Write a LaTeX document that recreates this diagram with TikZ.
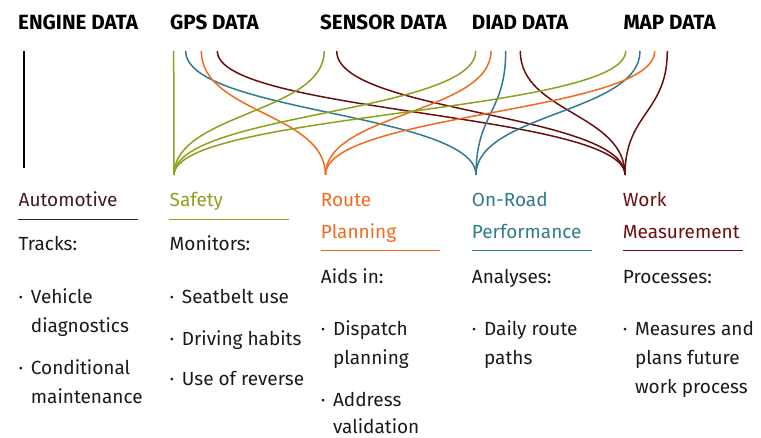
\documentclass[tikz,border=0pt]{standalone}
\usepackage{fontspec}
\setmainfont{Fira Sans}
\definecolor{cgreen}{HTML}{8BA21C}
\definecolor{corange}{HTML}{F26B1D}
\definecolor{cteal}{HTML}{2F7B8E}
\definecolor{cdred}{HTML}{6B0E10}
\definecolor{cbrown}{HTML}{3D1C22}
\definecolor{ctext}{HTML}{1A1A1A}
\tikzset{
  hdr/.style={anchor=base west,inner sep=0pt,font=\fontsize{20.6}{24}\selectfont\bfseries,text=black},
  txt/.style={anchor=base west,inner sep=0pt,font=\fontsize{19}{22}\selectfont,text=ctext},
  bul/.style={anchor=base west,inner sep=0pt,font=\fontsize{19}{22}\selectfont,text=ctext},
  flow/.style={line width=1.5pt},
  uline/.style={line width=1.5pt}
}
\newcommand{\flowc}[3]{\draw[flow,#1] (#2) .. controls +(0,62) and +(0,-62) .. (#3);}
\begin{document}
\begin{tikzpicture}[x=1pt,y=-1pt]
\useasboundingbox (0,0) rectangle (761,438);
% headers
\node[hdr] (hEng) at (18,30) {ENGINE DATA};
\node[hdr] (hGps) at (170,30) {GPS DATA};
\node[hdr] (hSen) at (320,30) {SENSOR DATA};
\node[hdr] (hDiad) at (471.7,30) {DIAD DATA};
\node[hdr] (hMap) at (623.3,30) {MAP DATA};
% top coordinates
\coordinate (eTop) at (24,51);
\coordinate (eBot) at (24,168);
\coordinate (gG) at (173.7,51);
\coordinate (gT) at (185.7,51);
\coordinate (gO) at (201.3,51);
\coordinate (gR) at (217.3,51);
\coordinate (sG) at (324.3,51);
\coordinate (sR) at (336.7,51);
\coordinate (dG) at (475.7,51);
\coordinate (dO) at (491,51);
\coordinate (dT) at (505.7,51);
\coordinate (dR) at (520.3,51);
\coordinate (mG) at (625.7,51);
\coordinate (mT) at (640,51);
\coordinate (mO) at (654.7,51);
\coordinate (mR) at (667.3,51);
% hubs
\coordinate (hubG) at (174,175);
\coordinate (hubO) at (325.5,175);
\coordinate (hubT) at (476,175);
\coordinate (hubR) at (625,175);
% engine line
\draw[flow,black,line width=1.2pt] (eTop) -- (eBot);
% flows
\draw[flow,cgreen] (gG) -- (hubG);
\flowc{cteal}{gT}{hubT}
\flowc{corange}{gO}{hubO}
\flowc{cdred}{gR}{hubR}
\flowc{cgreen}{sG}{hubG}
\flowc{cdred}{sR}{hubR}
\flowc{cgreen}{dG}{hubG}
\flowc{corange}{dO}{hubO}
\flowc{cteal}{dT}{hubT}
\flowc{cdred}{dR}{hubR}
\flowc{cgreen}{mG}{hubG}
\flowc{cteal}{mT}{hubT}
\flowc{corange}{mO}{hubO}
\flowc{cdred}{mR}{hubR}
% column 1
\node[txt,text=cbrown] (c1t) at (18.5,206.7) {Automotive};
\coordinate (u1a) at (18.3,219.3); \coordinate (u1b) at (137.7,219.3);
\draw[uline,cbrown] (u1a) -- (u1b);
\node[txt] (c1s) at (18.5,251) {Tracks:};
\node[bul] (c1b1) at (18.5,303.5) {·};
\node[txt] (c1i1) at (30.7,303.5) {Vehicle};
\node[txt] (c1i1b) at (30.7,333) {diagnostics};
\node[bul] (c1b2) at (18.5,375) {·};
\node[txt] (c1i2) at (30.7,375) {Conditional};
\node[txt] (c1i2b) at (30.7,403.5) {maintenance};
% column 2
\node[txt,text=cgreen] (c2t) at (169.5,206.7) {Safety};
\coordinate (u2a) at (169.3,219.3); \coordinate (u2b) at (288.7,219.3);
\draw[uline,cgreen] (u2a) -- (u2b);
\node[txt] (c2s) at (169.5,251) {Monitors:};
\node[bul] (c2b1) at (169.5,304) {·};
\node[txt] (c2i1) at (181.7,304) {Seatbelt use};
\node[bul] (c2b2) at (169.5,345.7) {·};
\node[txt] (c2i2) at (181.7,345.7) {Driving habits};
\node[bul] (c2b3) at (169.5,386) {·};
\node[txt] (c2i3) at (181.7,386) {Use of reverse};
% column 3
\node[txt,text=corange] (c3t) at (320.7,206.7) {Route};
\node[txt,text=corange] (c3t2) at (320.7,238.3) {Planning};
\coordinate (u3a) at (320.7,250.7); \coordinate (u3b) at (440,250.7);
\draw[uline,corange] (u3a) -- (u3b);
\node[txt] (c3s) at (320.7,283.3) {Aids in:};
\node[bul] (c3b1) at (320.7,336) {·};
\node[txt] (c3i1) at (332.9,336) {Dispatch};
\node[txt] (c3i1b) at (332.9,365) {planning};
\node[bul] (c3b2) at (320.7,406.7) {·};
\node[txt] (c3i2) at (332.9,406.7) {Address};
\node[txt] (c3i2b) at (332.9,433.5) {validation};
% column 4
\node[txt,text=cteal] (c4t) at (471.7,206.7) {On-Road};
\node[txt,text=cteal] (c4t2) at (471.7,238.3) {Performance};
\coordinate (u4a) at (471.7,250.7); \coordinate (u4b) at (591.7,250.7);
\draw[uline,cteal] (u4a) -- (u4b);
\node[txt] (c4s) at (471.7,283.3) {Analyses:};
\node[bul] (c4b1) at (471.7,336) {·};
\node[txt] (c4i1) at (483.9,336) {Daily route};
\node[txt] (c4i1b) at (483.9,365) {paths};
% column 5
\node[txt,text=cdred] (c5t) at (622.7,206.7) {Work};
\node[txt,text=cdred] (c5t2) at (622.7,238.3) {Measurement};
\coordinate (u5a) at (622.7,250.7); \coordinate (u5b) at (742.7,250.7);
\draw[uline,cdred] (u5a) -- (u5b);
\node[txt] (c5s) at (622.7,283.3) {Processes:};
\node[bul] (c5b1) at (622.7,336) {·};
\node[txt] (c5i1) at (634.9,336) {Measures and};
\node[txt] (c5i1b) at (634.9,365) {plans future};
\node[txt] (c5i1c) at (634.9,394) {work process};
\end{tikzpicture}
\end{document}
